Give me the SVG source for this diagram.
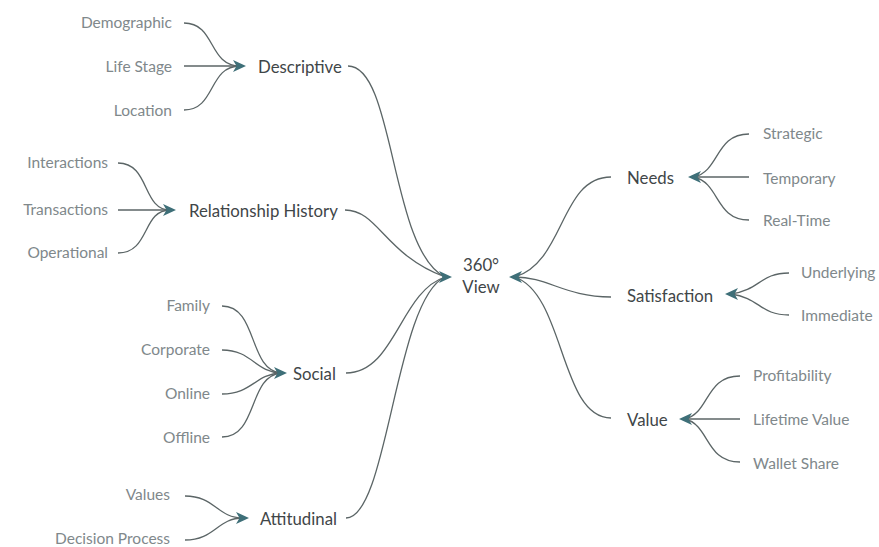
<svg xmlns="http://www.w3.org/2000/svg" width="879" height="547" viewBox="0 0 879 547">
<style>
text{font-family:Lato,"Liberation Sans",sans-serif;dominant-baseline:central}
.leaf{font-size:15.5px;fill:#80888b}
.lr{text-anchor:end}
.node{font-size:16.8px;fill:#3f4648}
.c{fill:none;stroke:#5b6566;stroke-width:1.3}
.ah{fill:#3e6f78}
</style>
<defs>
<path id="ar" d="M0,0 L-13,-6 L-9.5,0 L-13,6 Z"/>
</defs>
<rect width="879" height="547" fill="#ffffff"/>
<g id="connectors">
<path class="c" d="M184,23 C216,23 208,66 240,66"/>
<path class="c" d="M184,66 L240,66"/>
<path class="c" d="M184,110 C216,110 208,66 240,66"/>
<path class="c" d="M118,163 C150,163 142,210 170,210"/>
<path class="c" d="M118,210 L170,210"/>
<path class="c" d="M118,253 C150,253 142,210 170,210"/>
<path class="c" d="M222,306 C258,306 248,370 281,373"/>
<path class="c" d="M222,350 C252,350 255,372 281,373"/>
<path class="c" d="M222,394 C252,394 255,374 281,373"/>
<path class="c" d="M222,437 C258,437 248,376 281,373"/>
<path class="c" d="M185,496 C215,496 217,518 243,518"/>
<path class="c" d="M185,540 C215,540 217,518 243,518"/>
<path class="c" d="M348,66 C395,66 390,250 445,277"/>
<path class="c" d="M345,210 C378,210 385,255 445,277"/>
<path class="c" d="M346,373 C395,373 400,292 445,277"/>
<path class="c" d="M346,518 C388,518 395,300 445,277"/>
<path class="c" d="M611,177 C560,177 565,262 515,277"/>
<path class="c" d="M611,297 C565,297 548,277 515,277"/>
<path class="c" d="M611,418 C560,418 565,295 515,277"/>
<path class="c" d="M749,134 C715,134 720,171 694,177"/>
<path class="c" d="M749,177 L694,177"/>
<path class="c" d="M749,220 C715,220 720,183 694,177"/>
<path class="c" d="M789,273 C760,273 760,290 731,294"/>
<path class="c" d="M789,315 C760,315 760,298 731,294"/>
<path class="c" d="M740,376 C705,376 710,413 685,419"/>
<path class="c" d="M740,419 L685,419"/>
<path class="c" d="M740,462 C705,462 710,425 685,419"/>
<use href="#ar" class="ah" transform="translate(246,66)"/>
<use href="#ar" class="ah" transform="translate(176,210)"/>
<use href="#ar" class="ah" transform="translate(287,373)"/>
<use href="#ar" class="ah" transform="translate(249,518)"/>
<use href="#ar" class="ah" transform="translate(452,277)"/>
<use href="#ar" class="ah" transform="translate(509,277) rotate(180)"/>
<use href="#ar" class="ah" transform="translate(688,177) rotate(180)"/>
<use href="#ar" class="ah" transform="translate(725,294) rotate(180)"/>
<use href="#ar" class="ah" transform="translate(679,419) rotate(180)"/>
</g>
<g id="descriptive"><text class="node" x="258" y="66">Descriptive</text></g>
<g id="demographic"><text class="leaf lr" x="172" y="22">Demographic</text></g>
<g id="life-stage"><text class="leaf lr" x="172" y="66">Life Stage</text></g>
<g id="location"><text class="leaf lr" x="172" y="110">Location</text></g>
<g id="relationship-history"><text class="node" x="189" y="210">Relationship History</text></g>
<g id="interactions"><text class="leaf lr" x="108" y="162">Interactions</text></g>
<g id="transactions"><text class="leaf lr" x="108" y="209">Transactions</text></g>
<g id="operational"><text class="leaf lr" x="108" y="252">Operational</text></g>
<g id="social"><text class="node" x="293" y="373">Social</text></g>
<g id="family"><text class="leaf lr" x="210" y="305">Family</text></g>
<g id="corporate"><text class="leaf lr" x="210" y="349">Corporate</text></g>
<g id="online"><text class="leaf lr" x="210" y="393">Online</text></g>
<g id="offline"><text class="leaf lr" x="210" y="437">Offline</text></g>
<g id="attitudinal"><text class="node" x="260" y="518">Attitudinal</text></g>
<g id="values"><text class="leaf lr" x="170" y="494">Values</text></g>
<g id="decision-process"><text class="leaf lr" x="170" y="538">Decision Process</text></g>
<g id="view360"><text class="node" x="481" y="264" text-anchor="middle">360°</text><text class="node" x="481" y="286" text-anchor="middle">View</text></g>
<g id="needs"><text class="node" x="627" y="177">Needs</text></g>
<g id="strategic"><text class="leaf" x="763" y="133">Strategic</text></g>
<g id="temporary"><text class="leaf" x="763" y="178">Temporary</text></g>
<g id="real-time"><text class="leaf" x="763" y="220">Real-Time</text></g>
<g id="satisfaction"><text class="node" x="627" y="295">Satisfaction</text></g>
<g id="underlying"><text class="leaf" x="801" y="272">Underlying</text></g>
<g id="immediate"><text class="leaf" x="801" y="315">Immediate</text></g>
<g id="value"><text class="node" x="627" y="419">Value</text></g>
<g id="profitability"><text class="leaf" x="753" y="375">Profitability</text></g>
<g id="lifetime-value"><text class="leaf" x="753" y="419">Lifetime Value</text></g>
<g id="wallet-share"><text class="leaf" x="753" y="463">Wallet Share</text></g>
</svg>
